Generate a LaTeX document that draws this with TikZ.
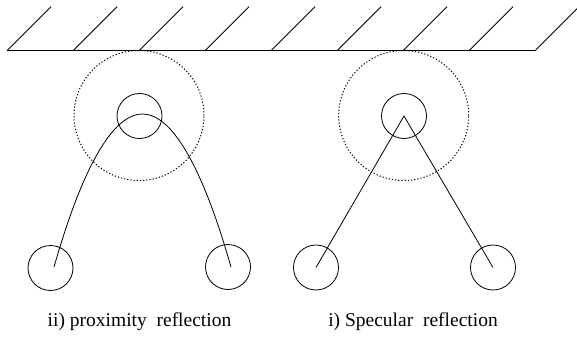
\documentclass[tikz,border=0pt]{standalone}
\usepackage{fontspec}
\setmainfont{Liberation Serif}
\begin{document}
\begin{tikzpicture}[x=1pt,y=-1pt,line width=0.8pt,
  ball/.style={circle,draw,inner sep=0pt,minimum size=45pt},
  zone/.style={circle,draw,line width=1pt,dash pattern=on 1.2pt off 2pt,inner sep=0pt,minimum size=130pt},
  caption/.style={font=\fontsize{19.5}{23}\selectfont,anchor=base,inner sep=0pt}]
\useasboundingbox (0,0) rectangle (577,339);

% hatched wall
\draw[line width=1.1pt] (7,50.7) -- (535,50.7);
\foreach \x in {7,73,...,535}
  \draw (\x,50.7) -- ++(44,-44);

% proximity reflection
\node[zone] (zl) at (139,115.5) {};
\node[ball] (tl) at (139.5,116) {};
\node[ball] (al) at (50.5,268) {};
\node[ball] (bl) at (228,267) {};
\coordinate (al0) at (54,267);
\coordinate (bl0) at (231,267);
\coordinate (apex) at (142.5,114);
\draw (al0) parabola bend (apex) (bl0);

% specular reflection
\node[zone] (zr) at (403.7,115.5) {};
\node[ball] (tr) at (404,116) {};
\node[ball] (ar) at (316,267.5) {};
\node[ball] (br) at (493,267.5) {};
\draw (ar.center) -- (tr.center) -- (br.center);

% captions
\node[caption] (cl) at (139.5,326) {ii) proximity\ \ reflection};
\node[caption] (cr) at (413,326) {i) Specular\ \ reflection};
\end{tikzpicture}
\end{document}
